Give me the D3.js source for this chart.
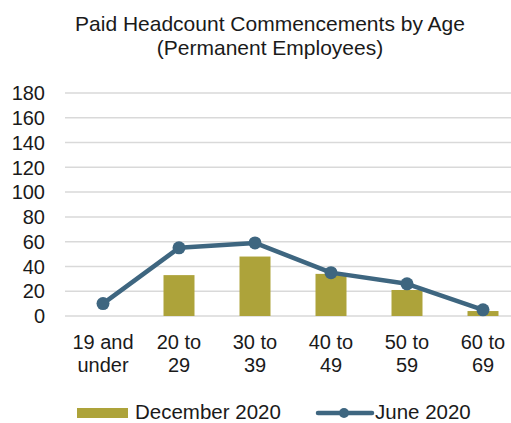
<!DOCTYPE html>
<html>
<head>
<meta charset="utf-8">
<script src="https://cdn.jsdelivr.net/npm/d3@7"></script>
<style>
  body { margin: 0; background: #fff; }
  text { font-family: "Liberation Sans", Arial, sans-serif; fill: #1a1a1a; }
</style>
</head>
<body>
<div id="chart"></div>
<script>
// Chart data
const categories = ["19 and under", "20 to 29", "30 to 39", "40 to 49", "50 to 59", "60 to 69"];
const categoryLines = [["19 and", "under"], ["20 to", "29"], ["30 to", "39"], ["40 to", "49"], ["50 to", "59"], ["60 to", "69"]];
const december2020 = [0, 33, 48, 34, 21, 4];
const june2020 = [10, 55, 59, 35, 26, 5];
const yTicks = [0, 20, 40, 60, 80, 100, 120, 140, 160, 180];

const W = 511, H = 423;
const margin = {top: 93, left: 65, bottom: 107};
const plotRight = 521;

const svg = d3.select("#chart").append("svg")
    .attr("width", W)
    .attr("height", H);

// Title
const title = svg.append("text")
    .attr("text-anchor", "middle")
    .style("font-size", "21px");
title.append("tspan").attr("x", 270).attr("y", 31).text("Paid Headcount Commencements by Age");
title.append("tspan").attr("x", 270).attr("y", 55).text("(Permanent Employees)");

const x = d3.scaleBand()
    .domain(categories)
    .range([margin.left, plotRight]);

const y = d3.scaleLinear()
    .domain([0, 180])
    .range([H - margin.bottom, margin.top]);

// Gridlines
svg.append("g")
    .selectAll("line")
    .data(yTicks)
    .enter().append("line")
    .attr("x1", margin.left)
    .attr("x2", plotRight)
    .attr("y1", d => y(d))
    .attr("y2", d => y(d))
    .attr("stroke", "#d9d9d9")
    .attr("stroke-width", 1.5);

// Y axis labels
svg.append("g")
    .selectAll("text")
    .data(yTicks)
    .enter().append("text")
    .attr("x", 45)
    .attr("y", d => y(d))
    .attr("dy", "0.36em")
    .attr("text-anchor", "end")
    .style("font-size", "20px")
    .text(d => d);

// Bars
const barW = 31;
svg.append("g")
    .selectAll("rect")
    .data(december2020)
    .enter().append("rect")
    .attr("x", (d, i) => x(categories[i]) + x.bandwidth() / 2 - barW / 2)
    .attr("y", d => y(d))
    .attr("width", barW)
    .attr("height", d => y(0) - y(d))
    .attr("fill", "#ada33a");

// Line
const line = d3.line()
    .x((d, i) => x(categories[i]) + x.bandwidth() / 2)
    .y(d => y(d));

svg.append("path")
    .datum(june2020)
    .attr("d", line)
    .attr("fill", "none")
    .attr("stroke", "#3e6680")
    .attr("stroke-width", 4.5)
    .attr("stroke-linejoin", "round");

svg.append("g")
    .selectAll("circle")
    .data(june2020)
    .enter().append("circle")
    .attr("cx", (d, i) => x(categories[i]) + x.bandwidth() / 2)
    .attr("cy", d => y(d))
    .attr("r", 6.5)
    .attr("fill", "#3e6680");

// X axis labels
const xl = svg.append("g")
    .selectAll("text")
    .data(categories)
    .enter().append("text")
    .attr("text-anchor", "middle")
    .style("font-size", "20px");
xl.each(function(d, i) {
    const cx = x(d) + x.bandwidth() / 2;
    categoryLines[i].forEach((t, j) => {
        d3.select(this).append("tspan")
            .attr("x", cx)
            .attr("y", 349 + j * 23)
            .text(t);
    });
});

// Legend
const legend = svg.append("g");
legend.append("rect")
    .attr("x", 77).attr("y", 408)
    .attr("width", 51).attr("height", 10)
    .attr("fill", "#ada33a");
legend.append("text")
    .attr("x", 135).attr("y", 419)
    .style("font-size", "20.5px")
    .text("December 2020");
legend.append("line")
    .attr("x1", 318).attr("x2", 372)
    .attr("y1", 413).attr("y2", 413)
    .attr("stroke", "#3e6680")
    .attr("stroke-width", 4.5)
    .attr("stroke-linecap", "round");
legend.append("circle")
    .attr("cx", 344).attr("cy", 413).attr("r", 5)
    .attr("fill", "#3e6680");
legend.append("text")
    .attr("x", 375).attr("y", 419)
    .style("font-size", "20.5px")
    .text("June 2020");
</script>
</body>
</html>
